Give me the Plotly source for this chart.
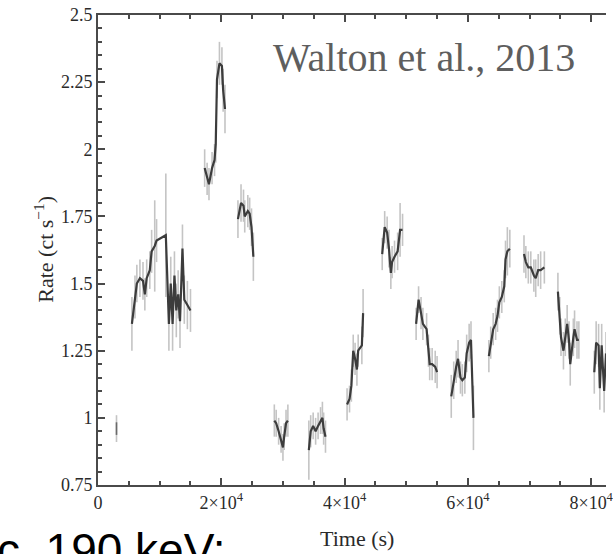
import plotly.graph_objects as go

# Light curve: time (s), count rate (ct/s) and 1-sigma errors.
# Orbit gaps are where consecutive times jump by more than 2 ks.
time_s = [
    3000,
    5500, 6000, 6300, 6800, 7300, 7600, 7900, 8400, 8700, 9200, 9500,
    11000, 11500, 11800, 12100, 12400, 12700, 13000, 13300, 13700, 14000, 14500, 15000,
    17300, 17700, 18000, 18500, 18900, 19100, 19300, 19700, 20100, 20300, 20600,
    22700, 23200, 23600, 23800, 24300, 24600, 24900, 25200,
    28600, 28900, 29300, 29700, 30000, 30200, 30500, 30800,
    34200, 34500, 34900, 35300, 35700, 36100, 36400, 36600, 36900,
    40400, 40800, 41100, 41400, 41700, 42000, 42200, 42800, 43000,
    46100, 46500, 46900, 47200, 47500, 47700, 48100, 48600, 49000, 49400,
    51600, 52000, 52400, 52700, 53300, 53600, 53800, 54200, 54700, 55000,
    57300, 57700, 58100, 58400, 58800, 59100, 59500, 59800, 60200, 60500, 60900,
    63400, 63700, 64100, 64500, 64800, 65100, 65500, 65900, 66100, 66400, 66800,
    69100, 69400, 69800, 70200, 70700, 71000, 71400, 71800, 72400,
    74600, 74900, 75100, 75500, 75800, 76100, 76400, 76600, 77100, 77300, 77700, 78000,
    80500, 80800, 81200, 81400, 81700, 82100, 82400,
]
rate = [
    0.96,
    1.35, 1.45, 1.50, 1.52, 1.51, 1.46, 1.52, 1.55, 1.62, 1.64, 1.66,
    1.68, 1.35, 1.50, 1.35, 1.53, 1.40, 1.46, 1.36, 1.63, 1.44, 1.42, 1.40,
    1.93, 1.89, 1.87, 1.93, 1.96, 2.02, 2.26, 2.32, 2.31, 2.22, 2.15,
    1.74, 1.80, 1.79, 1.75, 1.77, 1.76, 1.71, 1.60,
    0.99, 0.98, 0.95, 0.92, 0.89, 0.93, 0.98, 0.99,
    0.88, 0.95, 0.97, 0.95, 0.97, 0.99, 1.00, 0.96, 0.93,
    1.05, 1.07, 1.12, 1.25, 1.22, 1.18, 1.25, 1.27, 1.39,
    1.61, 1.71, 1.69, 1.63, 1.54, 1.58, 1.60, 1.62, 1.70, 1.70,
    1.35, 1.44, 1.39, 1.35, 1.33, 1.25, 1.20, 1.20, 1.19, 1.17,
    1.08, 1.14, 1.19, 1.22, 1.15, 1.14, 1.15, 1.24, 1.28, 1.29, 1.00,
    1.23, 1.28, 1.33, 1.35, 1.38, 1.43, 1.45, 1.49, 1.59, 1.62, 1.63,
    1.61, 1.58, 1.56, 1.56, 1.53, 1.52, 1.55, 1.55, 1.56,
    1.47, 1.38, 1.30, 1.25, 1.30, 1.35, 1.29, 1.20, 1.30, 1.33, 1.29, 1.29,
    1.17, 1.28, 1.27, 1.11, 1.27, 1.10, 1.24,
]
rate_err = [
    0.05,
    0.10, 0.08, 0.07, 0.07, 0.07, 0.06, 0.07, 0.07, 0.08, 0.17, 0.08,
    0.23, 0.10, 0.10, 0.10, 0.09, 0.10, 0.09, 0.10, 0.09, 0.09, 0.09, 0.08,
    0.07, 0.06, 0.06, 0.06, 0.06, 0.07, 0.07, 0.08, 0.07, 0.08, 0.09,
    0.07, 0.07, 0.06, 0.06, 0.06, 0.06, 0.07, 0.09,
    0.06, 0.05, 0.05, 0.05, 0.05, 0.05, 0.05, 0.06,
    0.11, 0.06, 0.05, 0.05, 0.05, 0.05, 0.06, 0.06, 0.06,
    0.06, 0.05, 0.06, 0.06, 0.06, 0.06, 0.06, 0.07, 0.09,
    0.06, 0.06, 0.06, 0.07, 0.06, 0.06, 0.06, 0.07, 0.10, 0.06,
    0.06, 0.05, 0.06, 0.06, 0.06, 0.06, 0.06, 0.06, 0.06, 0.06,
    0.08, 0.07, 0.06, 0.07, 0.06, 0.06, 0.06, 0.07, 0.07, 0.07, 0.12,
    0.06, 0.06, 0.06, 0.06, 0.06, 0.06, 0.06, 0.06, 0.07, 0.09, 0.07,
    0.07, 0.06, 0.06, 0.06, 0.06, 0.07, 0.06, 0.07, 0.06,
    0.07, 0.07, 0.07, 0.07, 0.07, 0.07, 0.07, 0.08, 0.07, 0.07, 0.07, 0.07,
    0.08, 0.08, 0.08, 0.08, 0.08, 0.08, 0.08,
]

x_tick_vals = [0, 20000, 40000, 60000, 80000]
x_tick_text = ["0", "2×10<sup>4</sup>", "4×10<sup>4</sup>", "6×10<sup>4</sup>", "8×10<sup>4</sup>"]
y_tick_vals = [0.75, 1.0, 1.25, 1.5, 1.75, 2.0, 2.25, 2.5]
y_tick_text = ["0.75", "1", "1.25", "1.5", "1.75", "2", "2.25", "2.5"]

GAP = 2000
serif = "Liberation Serif, Times New Roman, serif"
axis_col = "#4a4a4a"
line_col = "#3c3c3c"

# split the light curve into continuous orbits
orbits = []
start = 0
for i in range(1, len(time_s) + 1):
    if i == len(time_s) or time_s[i] - time_s[i - 1] > GAP:
        orbits.append((start, i))
        start = i

fig = go.Figure()

# error bars first so the rate line sits on top
for a, b in orbits:
    fig.add_trace(go.Scatter(
        x=time_s[a:b], y=rate[a:b], mode="markers",
        marker=dict(size=1, color="rgba(0,0,0,0)"),
        error_y=dict(type="data", array=rate_err[a:b], visible=True,
                     color="#c4c4c4", thickness=1.6, width=0),
        hoverinfo="skip", showlegend=False,
    ))
for a, b in orbits:
    if b - a == 1:
        # an isolated bin: short dark dash at its rate
        fig.add_trace(go.Scatter(
            x=time_s[a:b], y=rate[a:b], mode="markers",
            marker=dict(symbol="line-ns", size=9,
                        line=dict(color="#6a6a6a", width=1.6)),
            showlegend=False,
        ))
    else:
        fig.add_trace(go.Scatter(
            x=time_s[a:b], y=rate[a:b], mode="lines",
            line=dict(color=line_col, width=2.2, shape="linear"),
            showlegend=False,
        ))

W, H = 613, 554
L, R, T, B = 98, 0, 15, 69
pw, ph = W - L - R, H - T - B


def px(xp):
    return (xp - L) / pw


def py(yp):
    return (H - B - yp) / ph


tick_font = dict(family=serif, size=18, color="#2a2a2a")

fig.update_layout(
    width=W, height=H,
    margin=dict(l=L, r=R, t=T, b=B, pad=0),
    paper_bgcolor="white", plot_bgcolor="white",
    xaxis=dict(
        range=[0, 82400], showgrid=False, zeroline=False,
        showline=True, linecolor=axis_col, linewidth=2, mirror="allticks",
        ticks="inside", ticklen=7, tickwidth=1.5, tickcolor=axis_col,
        tickvals=x_tick_vals, ticktext=x_tick_text,
        ticklabeloverflow="allow",
        tickfont=tick_font,
        minor=dict(dtick=5000, tick0=0, ticks="inside", ticklen=4,
                   tickwidth=1.5, tickcolor=axis_col, showgrid=False),
    ),
    yaxis=dict(
        range=[0.75, 2.5], showgrid=False, zeroline=False,
        showline=True, linecolor=axis_col, linewidth=2, mirror=False,
        ticks="inside", ticklen=7, tickwidth=1.5, tickcolor=axis_col,
        tickvals=y_tick_vals, ticktext=y_tick_text,
        tickfont=tick_font,
        minor=dict(dtick=0.05, tick0=0.75, ticks="inside", ticklen=4,
                   tickwidth=1.5, tickcolor=axis_col, showgrid=False),
    ),
    annotations=[
        dict(text="Walton et al., 2013", x=px(273), y=py(57),
             xref="paper", yref="paper", xanchor="left", yanchor="middle",
             showarrow=False, font=dict(family=serif, size=40, color="#5e5e5e")),
        dict(text="Time (s)", x=px(361), y=py(538),
             xref="paper", yref="paper", xanchor="center", yanchor="middle",
             showarrow=False, font=dict(family=serif, size=22, color="#2a2a2a")),
        dict(text="Rate (ct s<sup>−1</sup>)", x=px(43), y=py(249),
             xref="paper", yref="paper", xanchor="center", yanchor="middle",
             textangle=-90, showarrow=False,
             font=dict(family=serif, size=22, color="#2a2a2a")),
        dict(text="c. 190 keV:", x=px(-6), y=py(550),
             xref="paper", yref="paper", xanchor="left", yanchor="middle",
             showarrow=False,
             font=dict(family="Liberation Sans, Arial, sans-serif", size=46, color="black")),
    ],
)

fig.write_html("out.html")
